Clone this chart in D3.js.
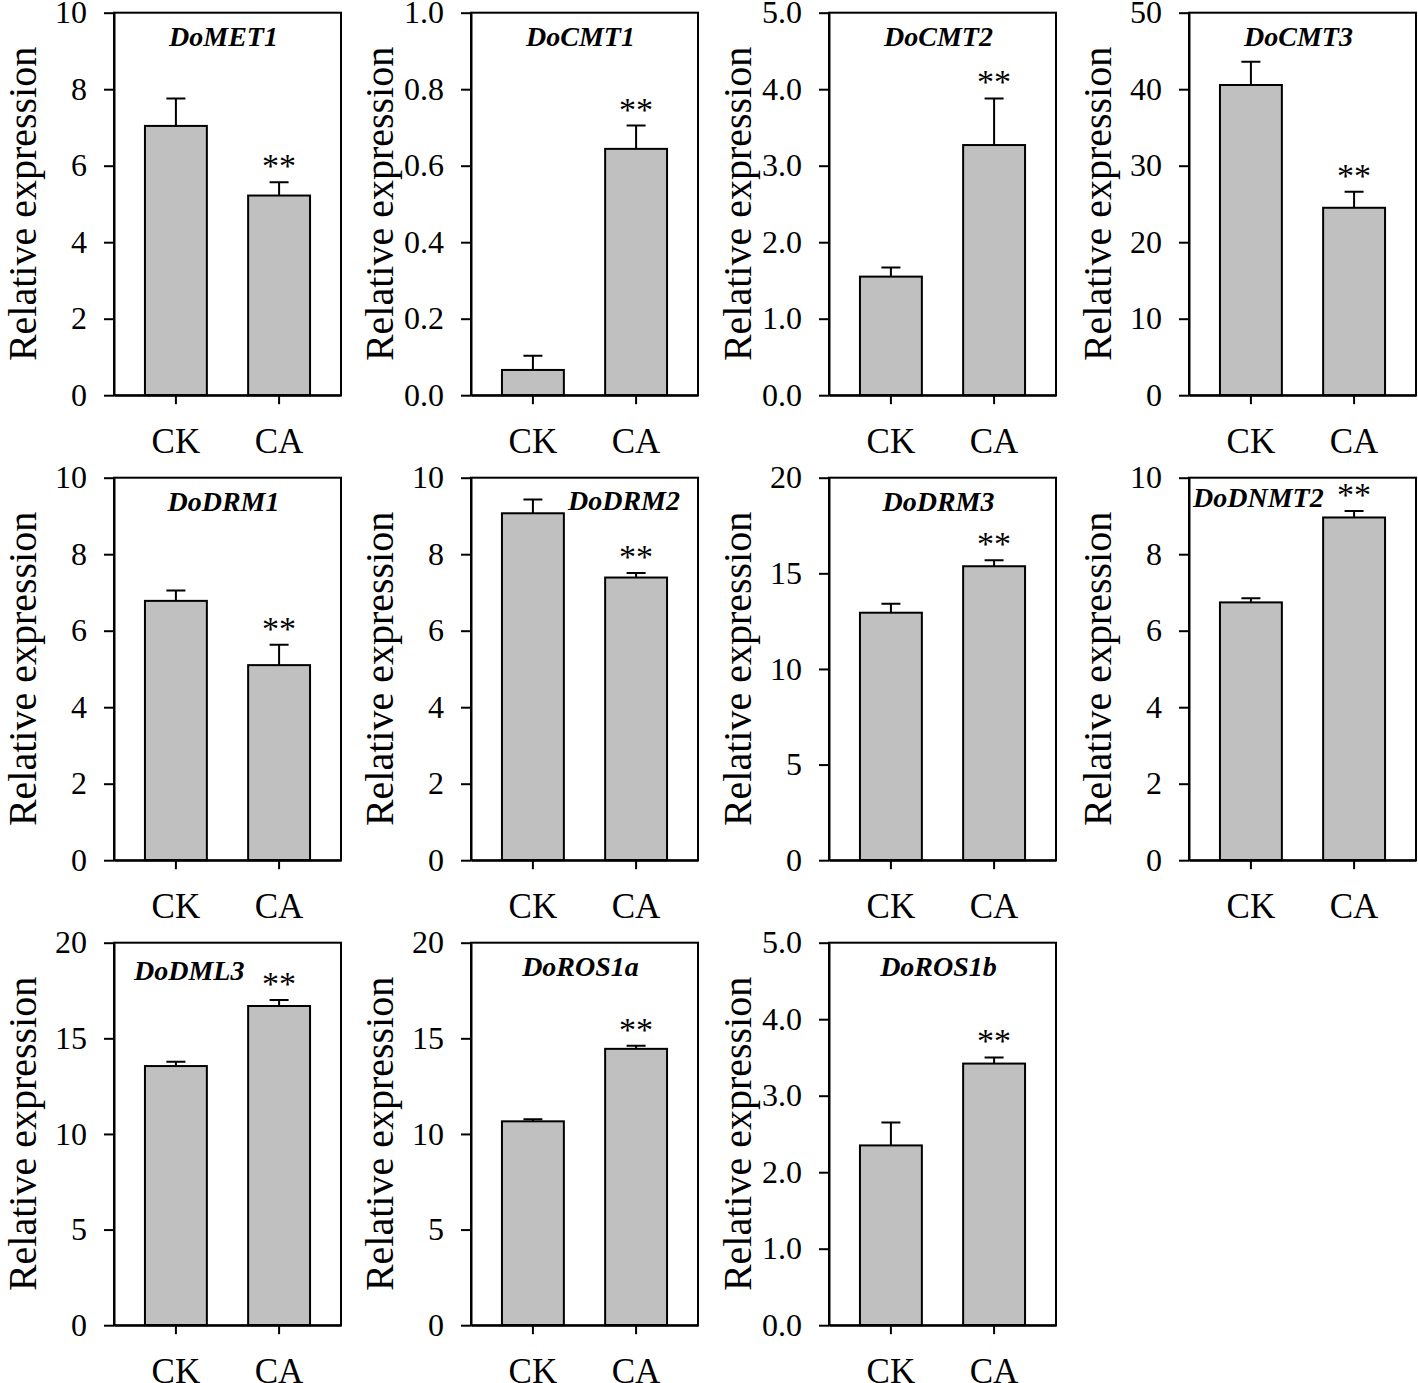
<!DOCTYPE html>
<html>
<head>
<meta charset="utf-8">
<script src="https://cdn.jsdelivr.net/npm/d3@7"></script>
<style>
  html, body { margin: 0; padding: 0; background: #fff; }
  svg { display: block; }
  text { font-family: "Liberation Serif", "Times New Roman", serif; fill: #000; }
</style>
</head>
<body>
<script>
// ---- data ----
const genes    = ["DoMET1","DoCMT1","DoCMT2","DoCMT3","DoDRM1","DoDRM2","DoDRM3","DoDNMT2","DoDML3","DoROS1a","DoROS1b"];
const groups   = ["CK","CA"];
const ckMean   = [7.04, 0.066, 1.55, 40.55, 6.78, 9.07, 12.94, 6.74, 13.55, 10.66, 2.35];
const ckErr    = [0.72, 0.037, 0.12, 3.05, 0.27, 0.36, 0.47, 0.11, 0.22, 0.11, 0.30];
const caMean   = [5.22, 0.644, 3.27, 24.5, 5.10, 7.39, 15.37, 8.96, 16.69, 14.45, 3.42];
const caErr    = [0.35, 0.061, 0.61, 2.1, 0.53, 0.12, 0.31, 0.17, 0.31, 0.16, 0.08];
const caSig    = ["**","**","**","**","**","**","**","**","**","**","**"];
const yMax     = [10, 1.0, 5.0, 50, 10, 10, 20, 10, 20, 20, 5.0];
const yStep    = [2, 0.2, 1.0, 10, 2, 2, 5, 2, 5, 5, 1.0];
const yDigits  = [0, 1, 1, 0, 0, 0, 0, 0, 0, 0, 1];
const yTitle   = "Relative expression";

// ---- layout ----
const W = 1418, H = 1383;
const colX = [114, 471, 829, 1189];
const rowY = [12.7, 477.7, 942.7];
const pw = 227, ph = 382.5;
const titleAlign = {DoDRM2: "end", DoDNMT2: "start", DoDML3: "start"};

const svg = d3.select("body").append("svg").attr("width", W).attr("height", H);

genes.forEach((g, i) => {
  const x0 = colX[i % 4], y0 = rowY[Math.floor(i / 4)];
  const p = svg.append("g").attr("transform", `translate(${x0},${y0})`);

  const x = d3.scaleBand().domain(groups).range([0, pw]).paddingInner(0.4).paddingOuter(0.3);
  const y = d3.scaleLinear().domain([0, yMax[i]]).range([ph, 0]);
  const ticks = d3.range(0, yMax[i] + yStep[i] / 2, yStep[i]);

  const rows = [
    {grp: "CK", v: ckMean[i], e: ckErr[i], s: ""},
    {grp: "CA", v: caMean[i], e: caErr[i], s: caSig[i]}
  ];

  // bars
  p.selectAll("rect.bar").data(rows).join("rect")
    .attr("class", "bar")
    .attr("x", d => x(d.grp))
    .attr("width", x.bandwidth())
    .attr("y", d => y(d.v))
    .attr("height", d => y(0) - y(d.v))
    .attr("fill", "#c0c0c0").attr("stroke", "#000").attr("stroke-width", 2);

  // error bars (upper)
  const cw = 19;
  p.selectAll("path.err").data(rows).join("path")
    .attr("class", "err")
    .attr("d", d => {
      const cx = x(d.grp) + x.bandwidth() / 2;
      return `M${cx},${y(d.v)}V${y(d.v + d.e)}M${cx - cw / 2},${y(d.v + d.e)}H${cx + cw / 2}`;
    })
    .attr("fill", "none").attr("stroke", "#000").attr("stroke-width", 2);

  // significance
  p.selectAll("text.sig").data(rows.filter(d => d.s)).join("text")
    .attr("class", "sig")
    .attr("x", d => x(d.grp) + x.bandwidth() / 2)
    .attr("y", d => y(d.v + d.e) - 5)
    .attr("text-anchor", "middle")
    .attr("font-size", 34)
    .text(d => d.s);

  // frame
  p.append("rect").attr("x", 0).attr("y", 0).attr("width", pw).attr("height", ph)
    .attr("fill", "none").attr("stroke", "#000").attr("stroke-width", 2);

  // y axis
  const ya = p.append("g").call(
    d3.axisLeft(y).tickValues(ticks).tickSize(10).tickSizeOuter(0).tickPadding(17)
      .tickFormat(d3.format(`.${yDigits[i]}f`)));
  ya.select(".domain").attr("stroke-width", 2);
  ya.selectAll(".tick line").attr("stroke-width", 2);
  ya.selectAll("text").attr("font-size", 32).style("font-family", "Liberation Serif");

  // x axis
  const xa = p.append("g").attr("transform", `translate(0,${ph})`).call(
    d3.axisBottom(x).tickSize(9).tickSizeOuter(0).tickPadding(24));
  xa.select(".domain").attr("stroke-width", 2);
  xa.selectAll(".tick line").attr("stroke-width", 2);
  xa.selectAll("text").attr("font-size", 35).style("font-family", "Liberation Serif");

  // y title
  p.append("text")
    .attr("transform", `translate(-78.5,${ph / 2}) rotate(-90)`)
    .attr("text-anchor", "middle")
    .attr("font-size", 40)
    .text(yTitle);

  // gene title
  const al = titleAlign[g] || "middle";
  let tx = pw / 2 - 4, ty = 33;
  if (g === "DoDRM2") { tx = pw - 18; ty = 32; }
  if (g === "DoDNMT2") { tx = 4; ty = 29; }
  if (g === "DoDML3") { tx = 20; ty = 37; }
  p.append("text")
    .attr("x", tx)
    .attr("y", ty)
    .attr("text-anchor", al)
    .attr("font-size", 28)
    .attr("font-weight", "bold")
    .attr("font-style", "italic")
    .text(g);
});
</script>
</body>
</html>
